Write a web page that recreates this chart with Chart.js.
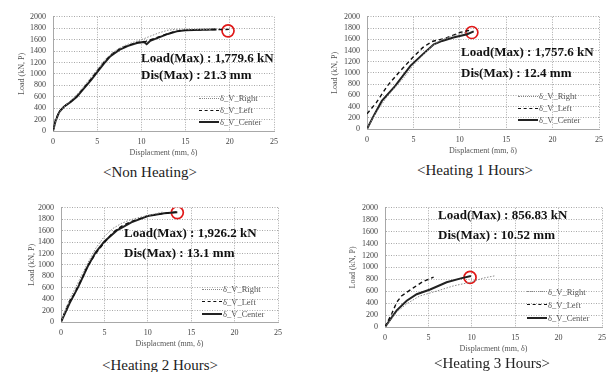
<!DOCTYPE html>
<html>
<head>
<meta charset="utf-8">
<script src="https://cdn.jsdelivr.net/npm/chart.js@4.4.1/dist/chart.umd.min.js"></script>
<style>
body { margin: 0; background: #fff; }
#wrap { position: relative; width: 611px; height: 372px; overflow: hidden; font-family: 'Liberation Serif', 'Times New Roman', serif; }
canvas { position: absolute; }
.cap { position: absolute; font-size: 15px; color: #222; transform: translate(-50%, -50%); white-space: nowrap; }
.note { position: absolute; font-size: 13px; font-weight: bold; color: #111; white-space: nowrap; transform: translateY(-50%); }
.leg { position: absolute; font-size: 8.5px; color: #555; white-space: nowrap; }
.leg div { display: flex; align-items: center; }
.leg span.ln { display: inline-block; width: 20px; margin-right: 1px; }
</style>
</head>
<body>
<div id="wrap"></div>
<script>
const seriesNames = ['δ_V_Right', 'δ_V_Left', 'δ_V_Center'];
const panelTitles = ['<Non Heating>', '<Heating 1 Hours>', '<Heating 2 Hours>', '<Heating 3 Hours>'];
const maxLoads = ['1,779.6', '1,757.6', '1,926.2', '856.83'];
const maxDis = ['21.3', '12.4', '13.1', '10.52'];

// [displacement mm, load kN]
const nhRight = [[0,0],[0.5,260],[1,390],[2,530],[3,690],[4,880],[5,1080],[6,1270],[7,1400],[8,1490],[9,1550],[10,1600],[11,1660],[12,1720],[13,1765],[14,1780],[16,1782],[18,1780]];
const nhLeft = [[0,0],[0.3,200],[0.7,340],[1.2,425],[2,515],[2.7,610],[3.5,760],[4.3,910],[5,1050],[5.8,1210],[6.5,1330],[7.5,1440],[8.5,1500],[9.5,1550],[10.5,1570],[11.5,1620],[12.5,1680],[13.5,1730],[14.5,1760],[16,1772],[18.5,1778],[19.9,1779]];
const nhCenter = [[0,0],[0.3,180],[0.7,330],[1.2,420],[2,510],[2.7,600],[3.5,745],[4.3,890],[5,1030],[5.8,1190],[6.5,1310],[7.5,1420],[8.5,1490],[9.5,1540],[10.3,1560],[10.6,1520],[11,1580],[12,1640],[13,1700],[14,1745],[15,1765],[17,1772],[18.5,1778]];

const h1Right = [[0,0],[1,300],[2,540],[3,740],[4,920],[5,1140],[6,1310],[7,1480],[8,1590],[9,1640],[10,1700],[11,1730]];
const h1Left = [[0,270],[1,470],[2.2,770],[3.5,1020],[4.9,1270],[6,1450],[7,1560],[8.5,1620],[10,1720],[11,1758]];
const h1Center = [[0,0],[0.8,260],[1.6,500],[3,760],[4.7,1130],[6,1330],[7.2,1510],[8.1,1570],[9.3,1630],[10.8,1690],[11.5,1740]];

const h2Right = [[0,0],[1,400],[2,700],[3,1010],[4,1290],[5,1500],[6,1640],[7,1730],[8,1790],[9,1830],[10,1865],[11,1900],[11.7,1925]];
const h2Left = [[0,0],[0.5,200],[1,370],[1.5,480],[2,640],[2.5,790],[3,960],[4,1200],[5,1390],[6,1570],[7,1680],[8,1755],[10,1860],[12,1905],[13.3,1926]];
const h2Center = [[0,0],[1,330],[2,620],[3.1,980],[4,1220],[5,1410],[6.4,1600],[8.1,1745],[10,1855],[11.9,1905],[13.4,1920]];

const h3Right = [[0,0],[1.35,250],[2.5,390],[4,520],[6,605],[7.9,690],[9.8,750],[11.3,820],[12.7,860]];
const h3Left = [[0,0],[0.8,230],[1.35,415],[1.9,520],[3.3,660],[4.4,765],[5.6,837]];
const h3Center = [[0,0],[1.35,280],[2.5,440],[3.65,550],[5.2,630],[7.1,750],[8.85,820],[9.9,857]];

const peaks = [[19.8,1755],[11.3,1720],[13.4,1917],[9.8,832]];

const panelData = [
  [nhRight, nhLeft, nhCenter],
  [h1Right, h1Left, h1Center],
  [h2Right, h2Left, h2Center],
  [h3Right, h3Left, h3Center]
];

// plot area (L,T,R,B), y-title offset, caption, notes, legend (x, y, row height)
const boxes = [
  { L: 53, T: 13, R: 274, B: 131, yt: 14, cap: [150, 172], note: [141, 58, 75], leg: [199, 92, 12] },
  { L: 367, T: 13, R: 599, B: 129, yt: 13, cap: [475, 170], note: [461, 52, 73], leg: [518, 90, 12] },
  { L: 61, T: 204, R: 278, B: 322, yt: 16, cap: [160, 365], note: [124, 233, 253], leg: [202, 283, 12.5] },
  { L: 385, T: 204, R: 602, B: 327, yt: 13, cap: [492, 363], note: [438, 215, 235], leg: [527, 285, 13] }
];

const wrap = document.getElementById('wrap');
const tickFont = { family: "'Liberation Serif', 'Times New Roman', serif", size: 8 };
const gridColor = '#a8a8a8';

function toPts(arr) {
  return arr.map(p => ({ x: p[0], y: p[1] }));
}

function makePanel(i) {
  const box = boxes[i];
  const w = box.R - box.L + 60;
  const h = box.B - box.T + 40;
  const cv = document.createElement('canvas');
  cv.width = w; cv.height = h;
  cv.style.left = (box.L - 50) + 'px';
  cv.style.top = (box.T - 8) + 'px';
  cv.style.width = w + 'px';
  cv.style.height = h + 'px';
  wrap.appendChild(cv);

  const sets = panelData[i];
  new Chart(cv, {
    type: 'scatter',
    data: {
      datasets: [
        { label: seriesNames[0], data: toPts(sets[0]), showLine: true, borderColor: '#8c8c8c', borderWidth: 1, borderDash: [1.5, 1.5], pointRadius: 0 },
        { label: seriesNames[1], data: toPts(sets[1]), showLine: true, borderColor: '#111', borderWidth: 1.4, borderDash: [4, 3], pointRadius: 0 },
        { label: seriesNames[2], data: toPts(sets[2]), showLine: true, borderColor: '#222', borderWidth: 2, pointRadius: 0 },
        { label: 'max', data: [{ x: peaks[i][0], y: peaks[i][1] }], pointRadius: 6, pointBorderColor: '#e01818', pointBorderWidth: 1.7, pointBackgroundColor: 'rgba(0,0,0,0)' }
      ]
    },
    options: {
      responsive: false,
      animation: false,
      layout: { padding: { left: 0, top: 8, right: 10, bottom: 0 } },
      plugins: { legend: { display: false }, tooltip: { enabled: false } },
      scales: {
        x: {
          type: 'linear', min: 0, max: 25,
          ticks: { stepSize: 5, padding: 6, font: tickFont, color: '#444', maxRotation: 0, autoSkip: false, callback: v => v },
          grid: { color: gridColor, lineWidth: 1, drawTicks: false },
          border: { color: gridColor, dash: [1, 1.5] },
          title: { display: true, text: 'Displacment (mm, δ)', font: tickFont, color: '#555', padding: { top: 0, bottom: 5 } },
          afterFit: s => { s.height = 32; }
        },
        y: {
          type: 'linear', min: 0, max: 2000,
          ticks: { stepSize: 200, padding: 7, font: tickFont, color: '#444', autoSkip: false, callback: v => v },
          grid: { color: gridColor, lineWidth: 1, drawTicks: false },
          border: { color: gridColor, dash: [1, 1.5] },
          title: { display: true, text: 'Load (kN, P)', font: tickFont, color: '#555', padding: { top: box.yt, bottom: 0 } },
          afterFit: s => { s.width = 50; }
        }
      }
    }
  });

  const cap = document.createElement('div');
  cap.className = 'cap';
  cap.textContent = panelTitles[i];
  cap.style.left = box.cap[0] + 'px';
  cap.style.top = box.cap[1] + 'px';
  wrap.appendChild(cap);

  const n1 = document.createElement('div');
  n1.className = 'note';
  n1.textContent = 'Load(Max) : ' + maxLoads[i] + ' kN';
  n1.style.left = box.note[0] + 'px';
  n1.style.top = box.note[1] + 'px';
  wrap.appendChild(n1);

  const n2 = document.createElement('div');
  n2.className = 'note';
  n2.textContent = 'Dis(Max) : ' + maxDis[i] + ' mm';
  n2.style.left = box.note[0] + 'px';
  n2.style.top = box.note[2] + 'px';
  wrap.appendChild(n2);

  const leg = document.createElement('div');
  leg.className = 'leg';
  leg.style.left = box.leg[0] + 'px';
  leg.style.top = box.leg[1] + 'px';
  const lineStyles = ['1px dotted #888', '1.5px dashed #111', '2px solid #222'];
  seriesNames.forEach((name, k) => {
    const row = document.createElement('div');
    row.style.height = box.leg[2] + 'px';
    const ln = document.createElement('span');
    ln.className = 'ln';
    ln.style.borderTop = lineStyles[k];
    row.appendChild(ln);
    row.appendChild(document.createTextNode(name));
    leg.appendChild(row);
  });
  wrap.appendChild(leg);
}

for (let i = 0; i < 4; i++) makePanel(i);
</script>
</body>
</html>
